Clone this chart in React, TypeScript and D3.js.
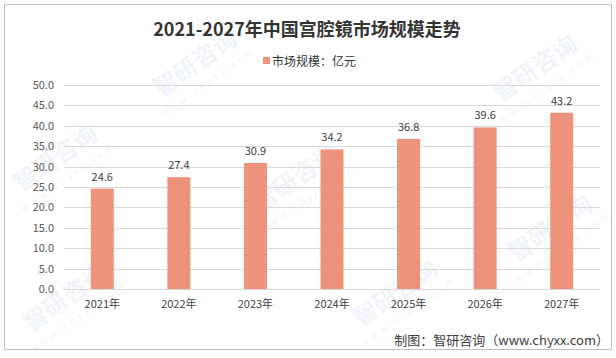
import React from "react";
import * as d3 from "d3";

const categories = ["2021年", "2022年", "2023年", "2024年", "2025年", "2026年", "2027年"];
const values = [24.6, 27.4, 30.9, 34.2, 36.8, 39.6, 43.2];
const yTicks = [0, 5, 10, 15, 20, 25, 30, 35, 40, 45, 50];
const title = "2021-2027年中国宫腔镜市场规模走势";
const legendLabel = "市场规模：亿元";
const source = "制图：智研咨询（www.chyxx.com）";

const W = 616;
const H = 358;
const FONT = "'Noto Sans CJK SC', 'Noto Sans', sans-serif";

export default function App() {
  const x = d3.scaleBand<string>().domain(categories).range([64, 600]).paddingInner(0.7).paddingOuter(0.35);
  const y = d3.scaleLinear().domain([0, 50]).range([289, 85]);
  const color = "#EE937B";

  const watermarks = [
    { x: 200, y: 70 }, { x: 540, y: 75 }, { x: 60, y: 165 }, { x: 300, y: 185 },
    { x: 555, y: 235 }, { x: 70, y: 305 }, { x: 400, y: 300 },
  ];

  return (
    <svg width={W} height={H} style={{ position: "absolute", left: 0, top: 0 }} fontFamily={FONT}>
      <rect x={0} y={0} width={W} height={H} fill="#fff" />
      {watermarks.map((w, i) => (
        <g key={i} transform={`translate(${w.x},${w.y}) rotate(-35)`} opacity={0.1}>
          <text x={0} y={0} fontSize={24} fontWeight="bold" fill="#7a9cc0" textAnchor="middle">智研咨询</text>
          <text x={0} y={18} fontSize={10} fill="#7a9cc0" textAnchor="middle" letterSpacing={3}>www.chyxx.com</text>
        </g>
      ))}
      <rect x={4.5} y={4.5} width={607} height={345} fill="none" stroke="#bfbfbf" strokeWidth={1} />
      <text x={307} y={36} textAnchor="middle" fontSize={18} fontWeight="bold" fill="#333">{title}</text>
      <rect x={263} y={57} width={7} height={7} fill={color} />
      <text x={272} y={65.5} fontSize={12} fill="#333">{legendLabel}</text>
      {yTicks.map((t) => (
        <g key={t}>
          <line x1={64} x2={600} y1={Math.round(y(t)) + 0.5} y2={Math.round(y(t)) + 0.5} stroke="#d9d9d9" strokeWidth={1} />
          <text x={54} y={y(t) + 4} textAnchor="end" fontSize={11} fill="#595959">{t.toFixed(1)}</text>
        </g>
      ))}
      {categories.map((c, i) => {
        const bx = x(c)!;
        const bw = x.bandwidth();
        return (
          <g key={c}>
            <rect x={bx} y={y(values[i])} width={bw} height={y(0) - y(values[i])} fill={color} />
            <text x={bx + bw / 2} y={y(values[i]) - 8} textAnchor="middle" fontSize={11} fill="#404040">{values[i].toFixed(1)}</text>
            <text x={bx + bw / 2} y={308} textAnchor="middle" fontSize={11} fill="#404040">{c}</text>
          </g>
        );
      })}
      <text x={609} y={345} textAnchor="end" fontSize={13} fill="#404040">{source}</text>
    </svg>
  );
}
